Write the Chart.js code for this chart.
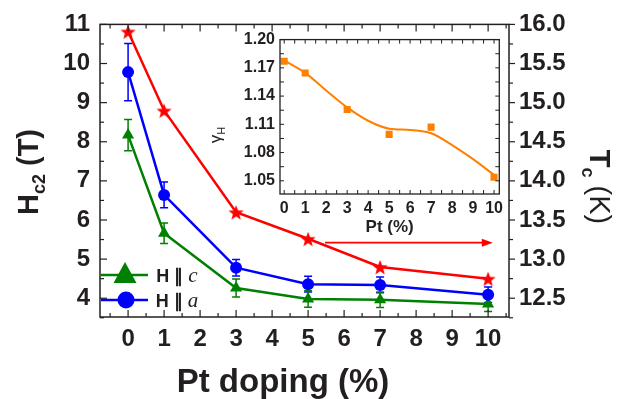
<!DOCTYPE html>
<html>
<head>
<meta charset="utf-8">
<script src="https://cdn.jsdelivr.net/npm/chart.js@4.4.0/dist/chart.umd.min.js"></script>
<style>
  body { margin: 0; background: #fff; }
  #wrap { position: relative; width: 633px; height: 399px; }
  #mainChart { position: absolute; left: 0; top: 0; }
  #insetChart { position: absolute; left: 190px; top: 25px; pointer-events: none; }
</style>
</head>
<body>
<div id="wrap">
  <canvas id="mainChart" width="633" height="399"></canvas>
  <canvas id="insetChart" width="330" height="215"></canvas>
</div>
<script>
// data
var dopingPct = [0, 1, 3, 5, 7, 10];
var tcKelvin = [15.91, 14.90, 13.60, 13.26, 12.90, 12.75];
var hc2A = [9.78, 6.64, 4.78, 4.36, 4.34, 4.09];
var hc2AErr = [0.73, 0.33, 0.21, 0.2, 0.2, 0.2];
var hc2C = [8.17, 5.66, 4.26, 3.98, 3.96, 3.85];
var hc2CErr = [0.4, 0.26, 0.23, 0.21, 0.2, 0.19];
var gammaH = [1.177, 1.1645, 1.1258, 1.0993, 1.107, 1.0538];
var fitPct = [0, 1, 2, 3, 4, 5, 6, 7, 8, 9, 10];
var gammaFit = [1.178, 1.1646, 1.146, 1.128, 1.1138, 1.1054, 1.104, 1.1005, 1.088, 1.073, 1.0563];

var xTicks = [0, 1, 2, 3, 4, 5, 6, 7, 8, 9, 10];
var hc2Ticks = [4, 5, 6, 7, 8, 9, 10, 11];
var tcTicks = [12.5, 13.0, 13.5, 14.0, 14.5, 15.0, 15.5, 16.0];
var gammaTicks = [1.05, 1.08, 1.11, 1.14, 1.17, 1.20];

var RED = '#ff0000', BLUE = '#0000ff', GREEN = '#008000', ORANGE = '#ff8000';
var INK = '#231f20';
var SANS = "'Liberation Sans', Arial, sans-serif";

function pts(xs, ys) {
  return xs.map(function (x, i) { return { x: x, y: ys[i] }; });
}
function steps(a, b, s) {
  var out = [];
  for (var v = a; v <= b + 1e-9; v += s) out.push(Math.round(v * 1000) / 1000);
  return out;
}

// filled five point star used as point style
function starImage(r, color) {
  var c = document.createElement('canvas');
  c.width = c.height = Math.ceil(r * 2 + 2);
  var g = c.getContext('2d');
  var cx = c.width / 2, cy = c.height / 2 + 1;
  g.beginPath();
  for (var i = 0; i < 10; i++) {
    var rad = i % 2 ? r * 0.42 : r;
    var a = -Math.PI / 2 + i * Math.PI / 5;
    g.lineTo(cx + rad * Math.cos(a), cy + rad * Math.sin(a));
  }
  g.closePath();
  g.fillStyle = color;
  g.fill();
  return c;
}
var star = starImage(8, RED);

function tickMarks(ctx, scale, edge, values, len, dir) {
  values.forEach(function (v) {
    var p = scale.getPixelForValue(v);
    ctx.beginPath();
    if (scale.isHorizontal()) { ctx.moveTo(p, edge); ctx.lineTo(p, edge + dir * len); }
    else { ctx.moveTo(edge, p); ctx.lineTo(edge + dir * len, p); }
    ctx.stroke();
  });
}

// draws a string made of parts [text, font, dy]
function drawParts(ctx, parts, cx, cy, angle) {
  ctx.save();
  ctx.translate(cx, cy);
  ctx.rotate(angle);
  ctx.textBaseline = 'alphabetic';
  ctx.textAlign = 'left';
  var total = 0;
  parts.forEach(function (p) { ctx.font = p[1]; total += ctx.measureText(p[0]).width; });
  var x = -total / 2;
  parts.forEach(function (p) {
    ctx.font = p[1];
    ctx.fillText(p[0], x, p[2]);
    x += ctx.measureText(p[0]).width;
  });
  ctx.restore();
}

var errorSets = [
  { vals: hc2A, err: hc2AErr, color: BLUE },
  { vals: hc2C, err: hc2CErr, color: GREEN }
];

var errorBars = {
  id: 'errorBars',
  beforeDatasetsDraw: function (chart) {
    var ctx = chart.ctx, xs = chart.scales.x, ys = chart.scales.y;
    ctx.save();
    ctx.lineWidth = 1.5;
    errorSets.forEach(function (s) {
      ctx.strokeStyle = s.color;
      dopingPct.forEach(function (d, i) {
        var px = xs.getPixelForValue(d);
        var top = ys.getPixelForValue(s.vals[i] + s.err[i]);
        var bot = ys.getPixelForValue(s.vals[i] - s.err[i]);
        ctx.beginPath();
        ctx.moveTo(px, top); ctx.lineTo(px, bot);
        ctx.moveTo(px - 4, top); ctx.lineTo(px + 4, top);
        ctx.moveTo(px - 4, bot); ctx.lineTo(px + 4, bot);
        ctx.stroke();
      });
    });
    ctx.restore();
  }
};

var mainFrame = {
  id: 'mainFrame',
  afterDraw: function (chart) {
    var ctx = chart.ctx, a = chart.chartArea;
    var xs = chart.scales.x, ys = chart.scales.y, y2 = chart.scales.y2;
    ctx.save();
    ctx.strokeStyle = INK;
    ctx.lineWidth = 1.5;
    ctx.strokeRect(a.left, a.top, a.right - a.left, a.bottom - a.top);
    ctx.lineWidth = 1.2;
    tickMarks(ctx, xs, a.bottom, xTicks, 7, -1);
    tickMarks(ctx, xs, a.bottom, steps(-0.5, 10.5, 1), 4, -1);
    tickMarks(ctx, xs, a.top, xTicks, 7, 1);
    tickMarks(ctx, xs, a.top, steps(-0.5, 10.5, 1), 4, 1);
    tickMarks(ctx, ys, a.left, hc2Ticks, 7, 1);
    tickMarks(ctx, ys, a.left, steps(3.5, 10.5, 1), 4, 1);
    tickMarks(ctx, y2, a.right, tcTicks, 6, 1);
    tickMarks(ctx, y2, a.right, steps(12.25, 15.75, 0.5), 4, 1);

    // arrow pointing to the Tc axis
    var ay = y2.getPixelForValue(13.21);
    var ax0 = xs.getPixelForValue(5.47), ax1 = xs.getPixelForValue(10.13);
    ctx.strokeStyle = RED; ctx.fillStyle = RED; ctx.lineWidth = 1.8;
    ctx.beginPath(); ctx.moveTo(ax0, ay); ctx.lineTo(ax1 - 8, ay); ctx.stroke();
    ctx.beginPath(); ctx.moveTo(ax1, ay); ctx.lineTo(ax1 - 11, ay - 4); ctx.lineTo(ax1 - 11, ay + 4); ctx.closePath(); ctx.fill();

    // legend
    ctx.lineWidth = 2.5;
    ctx.strokeStyle = GREEN; ctx.fillStyle = GREEN;
    ctx.beginPath(); ctx.moveTo(101, 275); ctx.lineTo(148, 275); ctx.stroke();
    ctx.beginPath(); ctx.moveTo(125, 262); ctx.lineTo(136.5, 283); ctx.lineTo(113.5, 283); ctx.closePath(); ctx.fill();
    ctx.strokeStyle = BLUE; ctx.fillStyle = BLUE;
    ctx.beginPath(); ctx.moveTo(101, 300); ctx.lineTo(148, 300); ctx.stroke();
    ctx.beginPath(); ctx.arc(126, 300, 8.5, 0, Math.PI * 2); ctx.fill();
    ctx.fillStyle = INK;
    drawParts(ctx, [['H \u2225 ', 'bold 18px ' + SANS, 0], ['c', 'italic 21px "Liberation Serif", serif', 0]], 177, 282, 0);
    drawParts(ctx, [['H \u2225 ', 'bold 18px ' + SANS, 0], ['a', 'italic 21px "Liberation Serif", serif', 0]], 177, 307, 0);

    // axis titles
    drawParts(ctx, [['H', 'bold 29px ' + SANS, 0], ['c2', 'bold 18px ' + SANS, 7], [' (T)', 'bold 29px ' + SANS, 0]], 38, 172, -Math.PI / 2);
    drawParts(ctx, [['T', 'bold 29px ' + SANS, 0], ['c', 'bold 18px ' + SANS, 8], [' (K)', '29px ' + SANS, 0]], 590, 187, Math.PI / 2);
    drawParts(ctx, [['Pt doping (%)', 'bold 33px ' + SANS, 0]], 283, 392, 0);
    ctx.restore();
  }
};

var tickFont = { family: SANS, size: 24, weight: 'bold' };

new Chart(document.getElementById('mainChart'), {
  type: 'line',
  data: {
    datasets: [{
      label: 'Tc',
      data: pts(dopingPct, tcKelvin),
      yAxisID: 'y2',
      borderColor: RED,
      backgroundColor: RED,
      borderWidth: 2.5,
      pointStyle: star,
      pointRadius: 8
    }, {
      label: 'H || a',
      data: pts(dopingPct, hc2A),
      yAxisID: 'y',
      borderColor: BLUE,
      backgroundColor: BLUE,
      borderWidth: 2.5,
      pointStyle: 'circle',
      pointRadius: 6,
      pointBorderWidth: 0
    }, {
      label: 'H || c',
      data: pts(dopingPct, hc2C),
      yAxisID: 'y',
      borderColor: GREEN,
      backgroundColor: GREEN,
      borderWidth: 2.5,
      pointStyle: 'triangle',
      pointRadius: 7,
      pointBorderWidth: 0
    }]
  },
  options: {
    responsive: false,
    animation: false,
    layout: { padding: { top: 24, left: 0, right: 0, bottom: 0 } },
    plugins: { legend: { display: false }, tooltip: { enabled: false } },
    scales: {
      x: {
        type: 'linear', min: -0.78, max: 10.58,
        afterFit: function (s) { s.height = 82; },
        afterBuildTicks: function (s) { s.ticks = xTicks.map(function (v) { return { value: v }; }); },
        grid: { display: false, drawTicks: false },
        border: { display: false },
        ticks: { font: tickFont, color: INK, padding: 8, maxRotation: 0, autoSkip: false }
      },
      y: {
        type: 'linear', position: 'left', min: 3.52, max: 11,
        afterFit: function (s) { s.width = 100; },
        afterBuildTicks: function (s) { s.ticks = hc2Ticks.map(function (v) { return { value: v }; }); },
        grid: { display: false, drawTicks: false },
        border: { display: false },
        ticks: { font: tickFont, color: INK, padding: 10 }
      },
      y2: {
        type: 'linear', position: 'right', min: 12.26, max: 16,
        afterFit: function (s) { s.width = 124; },
        afterBuildTicks: function (s) { s.ticks = tcTicks.map(function (v) { return { value: v }; }); },
        grid: { display: false, drawTicks: false },
        border: { display: false },
        ticks: { font: tickFont, color: INK, padding: 10, callback: function (v) { return v.toFixed(1); } }
      }
    }
  },
  plugins: [errorBars, mainFrame]
});

var insetFrame = {
  id: 'insetFrame',
  afterDraw: function (chart) {
    var ctx = chart.ctx, a = chart.chartArea, xs = chart.scales.x, ys = chart.scales.y;
    ctx.save();
    ctx.strokeStyle = INK;
    ctx.lineWidth = 1.3;
    ctx.strokeRect(a.left, a.top, a.right - a.left, a.bottom - a.top);
    ctx.lineWidth = 1;
    tickMarks(ctx, xs, a.bottom, steps(0, 10, 0.5), 4, -1);
    tickMarks(ctx, xs, a.top, steps(0, 10, 0.5), 4, 1);
    tickMarks(ctx, ys, a.left, steps(1.05, 1.2, 0.015), 4, 1);
    tickMarks(ctx, ys, a.right, steps(1.05, 1.2, 0.015), 4, -1);
    ctx.fillStyle = INK;
    drawParts(ctx, [['\u03b3', '17px ' + SANS, 0], ['H', '11px ' + SANS, 4]], 31, 110, -Math.PI / 2);
    drawParts(ctx, [['Pt (%)', 'bold 17px ' + SANS, 0]], (a.left + a.right) / 2, 207, 0);
    ctx.restore();
  }
};

var insetFont = { family: SANS, size: 16, weight: 'bold' };

new Chart(document.getElementById('insetChart'), {
  type: 'line',
  data: {
    datasets: [{
      label: 'fit',
      data: pts(fitPct, gammaFit),
      borderColor: ORANGE,
      borderWidth: 2,
      pointRadius: 0,
      cubicInterpolationMode: 'monotone'
    }, {
      label: 'gamma',
      data: pts(dopingPct, gammaH),
      showLine: false,
      backgroundColor: ORANGE,
      borderColor: ORANGE,
      pointStyle: 'rect',
      pointRadius: 5,
      pointBorderWidth: 0
    }]
  },
  options: {
    responsive: false,
    animation: false,
    layout: { padding: { top: 14.3, left: 0, right: 20.7, bottom: 0 } },
    plugins: { legend: { display: false }, tooltip: { enabled: false } },
    scales: {
      x: {
        type: 'linear', min: -0.2, max: 10.25,
        afterFit: function (s) { s.height = 46; },
        afterBuildTicks: function (s) { s.ticks = xTicks.map(function (v) { return { value: v }; }); },
        grid: { display: false, drawTicks: false },
        border: { display: false },
        ticks: { font: insetFont, color: INK, padding: 5, maxRotation: 0, minRotation: 0, autoSkip: false }
      },
      y: {
        type: 'linear', min: 1.036, max: 1.20,
        afterFit: function (s) { s.width = 90; },
        afterBuildTicks: function (s) { s.ticks = gammaTicks.map(function (v) { return { value: v }; }); },
        grid: { display: false, drawTicks: false },
        border: { display: false },
        ticks: { font: insetFont, color: INK, padding: 5, callback: function (v) { return v.toFixed(2); } }
      }
    }
  },
  plugins: [insetFrame]
});
</script>
</body>
</html>
